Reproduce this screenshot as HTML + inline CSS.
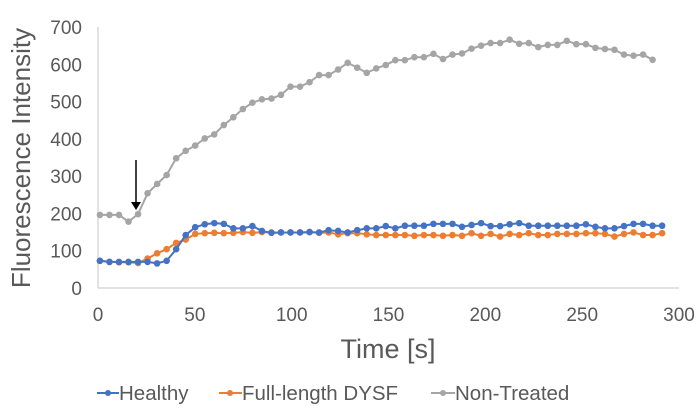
<!DOCTYPE html>
<html><head><meta charset="utf-8"><style>
body{margin:0;background:#fff;font-family:"Liberation Sans",sans-serif;}
svg text{font-family:"Liberation Sans",sans-serif;fill:#595959;}
</style></head><body>
<svg id="chart" width="700" height="411" viewBox="0 0 700 411">
<g id="axes"></g><g id="series"></g>
<line x1="136" y1="160" x2="136" y2="204" stroke="#000" stroke-width="1.5"/>
<polygon points="131,202 141,202 136,210" fill="#000"/>
<text x="30" y="158" font-size="26" text-anchor="middle" transform="rotate(-90 30 158)">Fluorescence Intensity</text>
<text x="388" y="358" font-size="27" text-anchor="middle">Time [s]</text>
<g>
<g><line x1="97" y1="393" x2="119" y2="393" stroke="#4472C4" stroke-width="2"/><circle cx="108" cy="393" r="3" fill="#4472C4"/><text x="119" y="400" font-size="20.5">Healthy</text></g>
<g><line x1="219" y1="393" x2="242" y2="393" stroke="#ED7D31" stroke-width="2"/><circle cx="230" cy="393" r="3" fill="#ED7D31"/><text x="242" y="400" font-size="20.5">Full-length DYSF</text></g>
<g><line x1="431" y1="393" x2="455" y2="393" stroke="#A5A5A5" stroke-width="2"/><circle cx="443" cy="393" r="3" fill="#A5A5A5"/><text x="455" y="400" font-size="20.5">Non-Treated</text></g>
</g>
</svg>
<script>
const xTicks=[0,50,100,150,200,250,300];
const yTicks=[0,100,200,300,400,500,600,700];
const timeStep=4.92;
const healthy=[73,70,70,70,70,70,66,73,104,142,163,171,174,172,160,160,166,153,148,149,149,149,150,149,155,153,149,155,160,160,166,
 160,167,167,167,172,172,172,164,169,174,166,166,171,174,167,167,167,167,167,167,171,164,160,160,166,172,172,167,167];
const fullLength=[73,70,69,69,67,79,93,104,121,130,145,147,148,147,148,150,148,150,149,149,149,149,150,148,149,144,147,147,144,142,142,
 142,142,140,142,142,140,142,140,147,140,145,138,145,142,147,142,142,145,145,145,147,147,145,138,145,149,142,142,147];
const nonTreated=[196,196,196,178,198,254,279,303,348,368,382,401,412,437,458,480,497,506,508,518,540,540,552,571,571,586,604,591,577,589,598,
 611,611,619,619,628,614,626,629,642,650,657,657,666,655,657,646,652,652,663,654,654,644,641,639,626,623,626,612];
const X0=98,X1=679,Y0=288,Y1=27;
const xs=v=>X0+(v/300)*(X1-X0);
const ys=v=>Y0-(v/700)*(Y0-Y1);
const NS="http://www.w3.org/2000/svg";
const axes=document.getElementById('axes'),series=document.getElementById('series');
function mk(tag,attrs,parent){const e=document.createElementNS(NS,tag);for(const k in attrs)e.setAttribute(k,attrs[k]);parent.appendChild(e);return e;}
let l=mk('line',{x1:X0,y1:Y0,x2:X1,y2:Y0,stroke:'#d9d9d9','stroke-width':1.5},axes);


l=mk('line',{x1:X0,y1:Y1,x2:X0,y2:Y0,stroke:'#d9d9d9','stroke-width':1.5},axes);


xTicks.forEach(t=>{const e=mk('text',{x:xs(t),y:321,'font-size':19,'text-anchor':'middle'},axes);e.textContent=t;
 
 });
yTicks.forEach(t=>{const e=mk('text',{x:82,y:ys(t)+7,'font-size':19,'text-anchor':'end'},axes);e.textContent=t;
 
 });
function draw(vals,color,name){
 const g=mk('g',{},series);
 
 
 const pts=vals.map((v,i)=>xs(i*timeStep+1)+','+ys(v)).join(' ');
 mk('polyline',{points:pts,fill:'none',stroke:color,'stroke-width':2},g);
 vals.forEach((v,i)=>{const c=mk('circle',{cx:xs(i*timeStep+1),cy:ys(v),r:3.3,fill:color},g);
  
  });
}
draw(nonTreated,'#A5A5A5','non-treated-series');
draw(fullLength,'#ED7D31','full-length-dysf-series');
draw(healthy,'#4472C4','healthy-series');
</script>
</body></html>
